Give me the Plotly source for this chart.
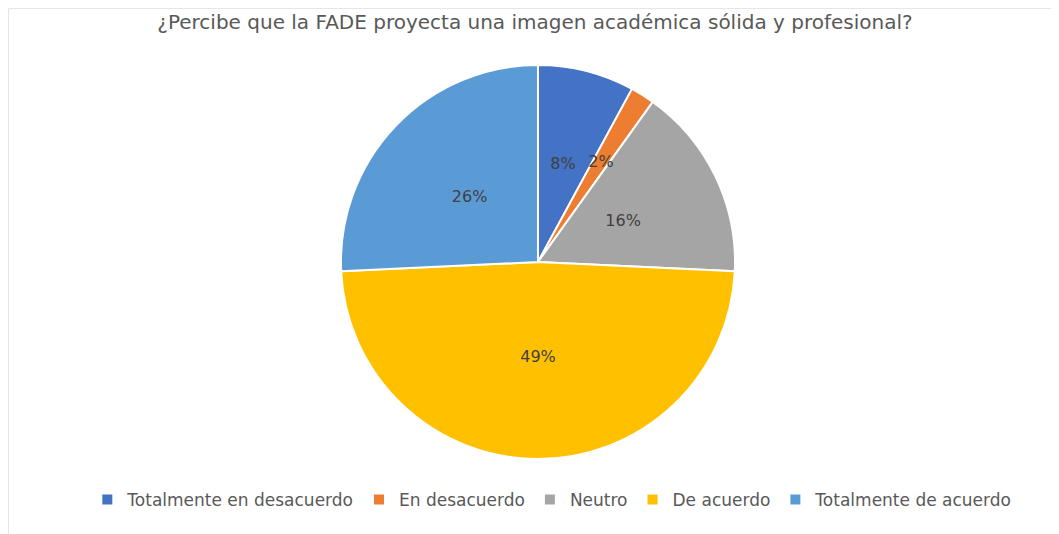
import plotly.graph_objects as go

categories = ["Totalmente en desacuerdo", "En desacuerdo", "Neutro", "De acuerdo", "Totalmente de acuerdo"]
values = [8, 2, 16, 49, 26]
colors = ["#4472C4", "#ED7D31", "#A5A5A5", "#FFC000", "#5B9BD5"]
title_text = "¿Percibe que la FADE proyecta una imagen académica sólida y profesional?"

FONT = "DejaVu Sans, Verdana, sans-serif"

# main pie (page body has an 8px margin, so figure coords are target - 8 px)
main_dom = dict(x=[0.3144, 0.6865], y=[0.1554, 0.8933])

fig = go.Figure()
fig.add_trace(go.Pie(
    labels=categories,
    values=values,
    marker=dict(colors=colors, line=dict(color="white", width=2)),
    sort=False,
    direction="clockwise",
    rotation=0,
    textinfo="none",
    domain=main_dom,
    hoverinfo="label+percent",
))

# transparent helper ring that carries the data labels at about half radius
cx = (main_dom["x"][0] + main_dom["x"][1]) / 2
cy = (main_dom["y"][0] + main_dom["y"][1]) / 2
hw = (main_dom["x"][1] - main_dom["x"][0]) / 2
hh = (main_dom["y"][1] - main_dom["y"][0]) / 2
k = 0.64
fig.add_trace(go.Pie(
    labels=categories,
    values=values,
    marker=dict(colors=["rgba(0,0,0,0)"] * len(values), line=dict(width=0)),
    sort=False,
    direction="clockwise",
    rotation=0,
    hole=0.5,
    texttemplate="%{value}%",
    textposition="inside",
    insidetextorientation="horizontal",
    textfont=dict(family=FONT, size=16, color="#404040"),
    domain=dict(x=[cx - hw * k, cx + hw * k], y=[cy - hh * k, cy + hh * k]),
    hoverinfo="skip",
    showlegend=False,
))

fig.update_layout(
    width=1059, height=534,
    margin=dict(l=0, r=0, t=0, b=0),
    paper_bgcolor="white",
    title=dict(text=title_text, x=0.4976, xanchor="center", y=0.974, yanchor="middle",
               font=dict(family=FONT, size=20, color="#595959")),
    legend=dict(orientation="h", x=0.514, xanchor="center", y=0.0787, yanchor="middle",
                font=dict(family=FONT, size=17, color="#595959"),
                itemwidth=30, traceorder="normal"),
    uniformtext=dict(minsize=15, mode="show"),
    shapes=[dict(type="rect", xref="paper", yref="paper", x0=0.0005, x1=1.01, y0=-0.01, y1=0.999,
                 line=dict(color="#E6E6E6", width=1), fillcolor="rgba(0,0,0,0)")],
)

fig.write_html("out.html")
